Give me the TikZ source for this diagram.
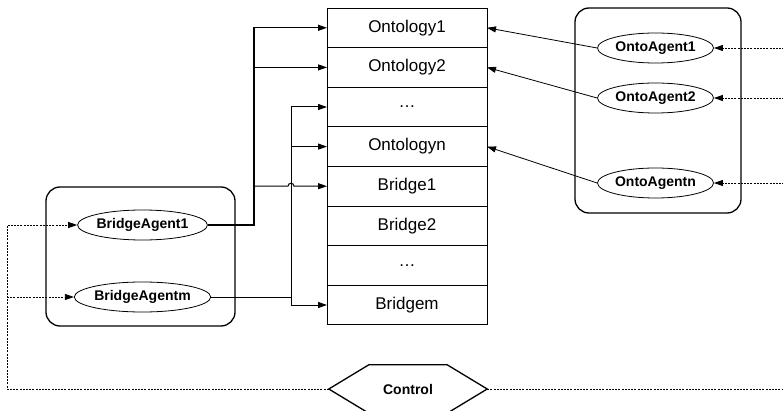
\documentclass[tikz,border=0pt]{standalone}
\usepackage{fontspec}
\setmainfont{Liberation Sans}
\usepackage{tikz}
\usetikzlibrary{arrows.meta,chains,positioning,calc,%
	shapes.geometric}

\begin{document}
\begin{tikzpicture}[
		x = 1pt, y = -1pt,
		start chain = going below,
		node distance = 0pt,
		RowStyle/.style={draw, line width=0.8pt, minimum width=160pt, minimum height=39.6pt,
			outer sep=0pt, inner sep=0pt, font=\fontsize{17}{20}\selectfont, on chain},
		AgentStyle/.style={draw, ellipse, line width=0.8pt, inner sep=0pt, minimum height=30pt,
			font=\fontsize{14}{17}\selectfont\bfseries},
		BoxStyle/.style={draw, line width=1.3pt, rounded corners=14pt, inner sep=0pt},
		Link/.style={line width=1pt, -{Triangle[length=9pt, width=6pt]}},
		DashLine/.style={line width=0.8pt, dash pattern=on 2pt off 1.2pt},
		DashLink/.style={DashLine, -{Triangle[length=9pt, width=6pt]}},
		]
		\useasboundingbox (0,0) rectangle (783,411);
		
		\node [RowStyle] (O1) at (407,27.8) {Ontology1};
		\node [RowStyle] (O2) {Ontology2};
		\node [RowStyle] (O3) {\dots};
		\node [RowStyle] (On) {Ontologyn};
		\node [RowStyle] (B1) {Bridge1};
		\node [RowStyle] (B2) {Bridge2};
		\node [RowStyle] (B3) {\dots};
		\node [RowStyle] (Bm) {Bridgem};
		
		\node [BoxStyle, minimum width=166pt, minimum height=205pt] (OntoBox) at (658,110.5) {};
		\node [BoxStyle, minimum width=189pt, minimum height=139pt] (BridgeBox) at (140.5,256.5) {};
		
		\node [AgentStyle, minimum width=116pt] (OA1) at (655.5,48) {OntoAgent1};
		\node [AgentStyle, minimum width=116pt] (OA2) at (655.5,98) {OntoAgent2};
		\node [AgentStyle, minimum width=116pt] (OAn) at (655.5,183) {OntoAgentn};
		\node [AgentStyle, minimum width=129pt] (BA1) at (142.5,225) {BridgeAgent1};
		\node [AgentStyle, minimum width=129pt] (BAm) at (142.5,297) {BridgeAgentm};
		
		\node [minimum width=158pt, minimum height=48pt, inner sep=0pt,
			font=\fontsize{14}{17}\selectfont\bfseries] (Ctrl) at (408,389) {Control};
		\draw [line width=1.3pt] (Ctrl.west) -- ($(Ctrl.north west)+(40,0)$)
			-- ($(Ctrl.north east)+(-40,0)$) -- (Ctrl.east)
			-- ($(Ctrl.south east)+(-40,0)$) -- ($(Ctrl.south west)+(40,0)$) -- cycle;
		
		% bridge agents to the table
		\coordinate (Bus1) at (254,225);
		\coordinate (Bus2) at (291,297);
		\draw [Link, line width=1.2pt] (BA1.east) -- (Bus1) |- (O1.west);
		\draw [Link] (Bus1) |- (O2.west);
		\draw [Link] (Bus1) |- ([xshift=-3pt]Bus2 |- B1.west)
			arc [start angle=180, end angle=0, radius=3pt] -- (B1.west);
		\draw [Link] (BAm.east) -- (Bus2) |- (O3.west);
		\draw [Link] (Bus2) |- (On.west);
		\draw [Link] (Bus2) |- (Bm.west);
		
		% onto agents to the table
		\draw [Link, line width=0.8pt] (OA1.west) -- (O1.east);
		\draw [Link, line width=0.8pt] (OA2.west) -- (O2.east);
		\draw [Link, line width=0.8pt] (OAn.west) -- (On.east);
		
		% control lines
		\draw [DashLink] ([xshift=80pt]OA1.east) -- (OA1.east);
		\draw [DashLink] ([xshift=80pt]OA2.east) -- (OA2.east);
		\draw [DashLink] ([xshift=80pt]OAn.east) -- (OAn.east);
		\coordinate (Corner) at (7,225);
		\draw [DashLink] (Ctrl.west) -| (Corner) -- (BA1.west);
		\draw [DashLink] (Corner |- BAm.west) -- (BAm.west);
		\draw [DashLine] (Ctrl.east) -- ++(310,0);
		
\end{tikzpicture}
\end{document}
